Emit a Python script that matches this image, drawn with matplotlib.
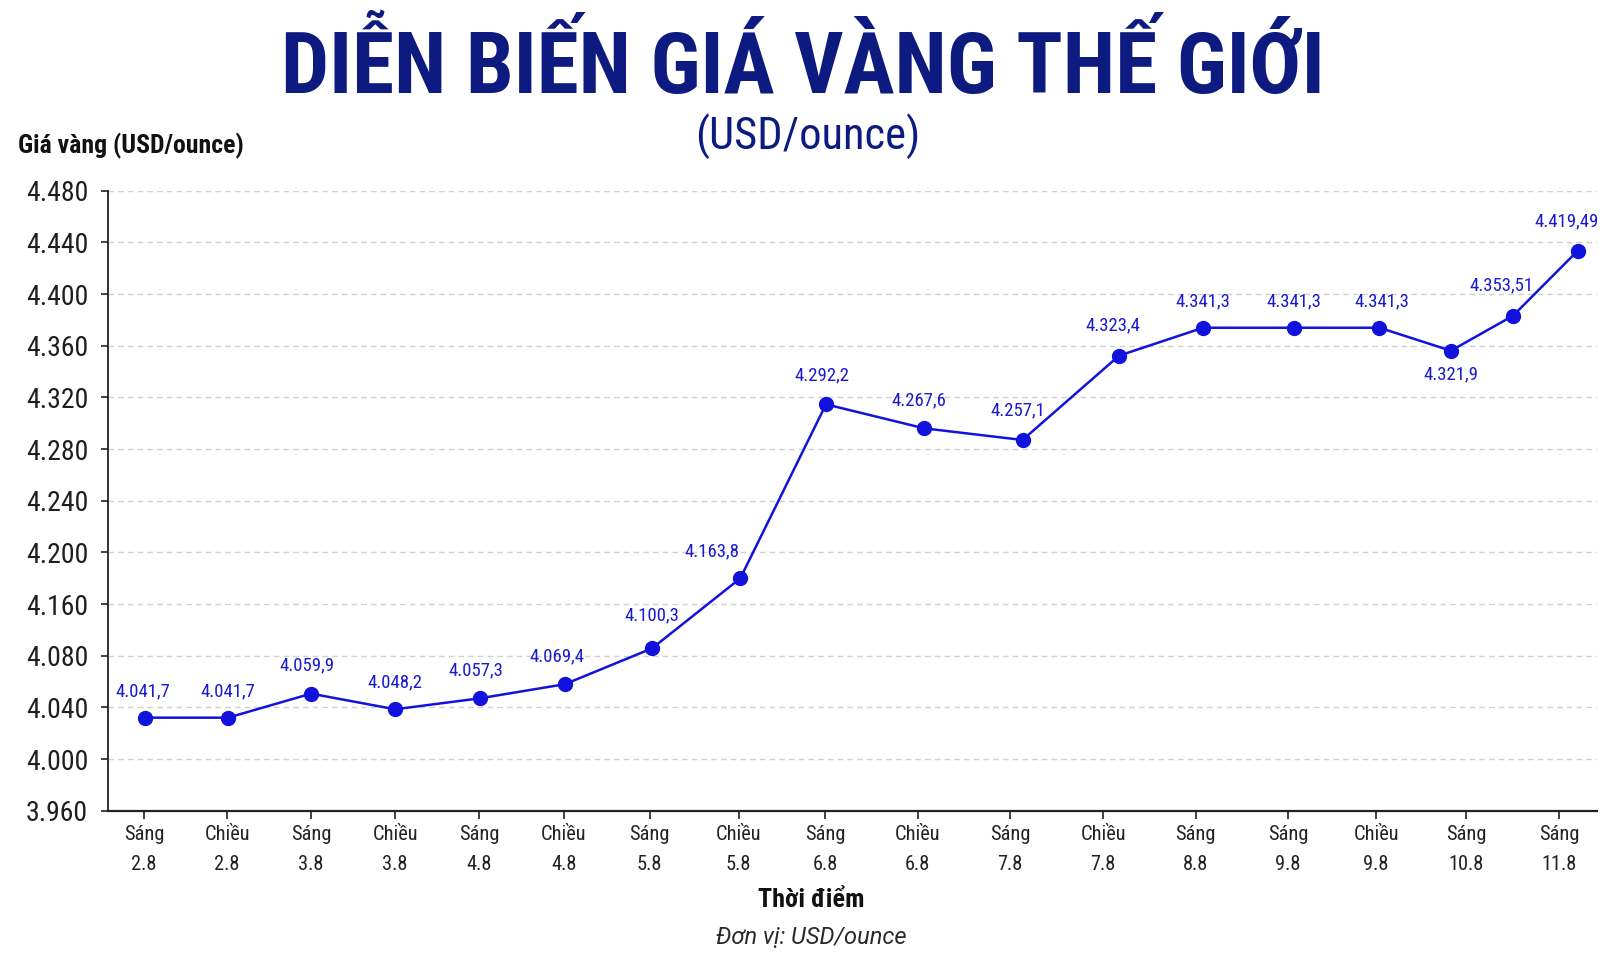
import matplotlib
matplotlib.use("Agg")
import matplotlib.pyplot as plt

# data
time_labels = ["Sáng\n2.8", "Chiều\n2.8", "Sáng\n3.8", "Chiều\n3.8", "Sáng\n4.8",
               "Chiều\n4.8", "Sáng\n5.8", "Chiều\n5.8", "Sáng\n6.8", "Chiều\n6.8",
               "Sáng\n7.8", "Chiều\n7.8", "Sáng\n8.8", "Sáng\n9.8", "Chiều\n9.8",
               "Sáng\n10.8", "Sáng\n11.8"]
tick_pos = [0, 0.99, 1.99, 2.99, 3.99, 5.0, 6.02, 7.08, 8.11, 9.21,
            10.31, 11.42, 12.52, 13.62, 14.67, 15.74, 16.85]

# where the points sit on the chart's own scale
point_x = [0.01, 1.0, 1.99, 2.99, 4.0, 5.01, 6.05, 7.1, 8.12, 9.29,
           10.46, 11.61, 12.61, 13.69, 14.71, 15.56, 16.3, 17.07]
point_y = [4032.0, 4032.0, 4050.6, 4038.5, 4047.0, 4057.9, 4085.7, 4139.9, 4274.6,
           4256.0, 4247.0, 4312.3, 4333.9, 4333.9, 4333.9, 4316.1, 4343.2, 4393.5]
# what the labels say
price_text = ["4.041,7", "4.041,7", "4.059,9", "4.048,2", "4.057,3", "4.069,4",
              "4.100,3", "4.163,8", "4.292,2", "4.267,6", "4.257,1", "4.323,4",
              "4.341,3", "4.341,3", "4.341,3", "4.321,9", "4.353,51", "4.419,49"]

y_ticks = list(range(3960, 4441, 40))
y_tick_labels = ["3.960", "4.000", "4.040", "4.080", "4.160", "4.200", "4.240",
                 "4.280", "4.320", "4.360", "4.400", "4.440", "4.480"]

# label offsets in pixels (dx, dy)
label_off = [(-2, 26), (0, 26), (-4, 28), (0, 27), (-4, 28), (-8, 28), (0, 33),
             (-28, 27), (-4, 29), (-5, 28), (-5, 30), (-6, 30), (0, 26), (0, 26),
             (2, 26), (0, -24), (-12, 30), (-11, 29)]

plt.rcParams["font.family"] = ["Roboto Condensed", "DejaVu Sans"]
wide = ["Roboto", "DejaVu Sans"]

navy = "#0d1a7f"
blue = "#1212dd"

fig = plt.figure(figsize=(16.24, 9.69), dpi=100)
ax = fig.add_axes([0.0663, 0.1634, 0.9171, 0.6398])

ax.plot(point_x, point_y, color=blue, linewidth=1.8, marker="o",
        markersize=10, zorder=3)
for x, y, t, (dx, dy) in zip(point_x, point_y, price_text, label_off):
    ax.annotate(t, (x, y), xytext=(dx, dy), textcoords="offset pixels",
                ha="center", va="center", fontsize=13.5, color="#1a1ad0")

ax.set_xlim(-0.432, 17.3)
ax.set_ylim(3960, 4440)
ax.set_yticks(y_ticks)
ax.set_yticklabels(y_tick_labels, fontsize=20, color="#1e1e1e")
ax.set_xticks(tick_pos)
ax.set_xticklabels(time_labels, fontsize=14.7, color="#222222", linespacing=1.74)

for y in y_ticks[1:]:
    ax.axhline(y, color="#d0d0d0", linewidth=1, linestyle=(0, (4, 3)), zorder=1)

for s in ["top", "right"]:
    ax.spines[s].set_visible(False)
ax.spines["left"].set_color("#222222")
ax.spines["bottom"].set_color("#222222")
ax.spines["left"].set_linewidth(1.3)
ax.spines["bottom"].set_linewidth(1.6)
ax.tick_params(axis="y", length=5, width=1.2, color="#222222", pad=9)
ax.tick_params(axis="x", length=6, width=1.2, color="#222222", pad=4.5)

fig.text(0.4945, 0.9037, "DIỄN BIẾN GIÁ VÀNG THẾ GIỚI", ha="center", va="baseline",
         fontsize=61.5, fontweight="bold", color=navy)
fig.text(0.4975, 0.845, "(USD/ounce)", ha="center", va="baseline",
         fontsize=32, color=navy)
fig.text(0.0113, 0.8418, "Giá vàng (USD/ounce)", ha="left", va="baseline",
         fontsize=18.5, fontweight="bold", color="#111111")
fig.text(0.4994, 0.0643, "Thời điểm", ha="center", va="baseline",
         fontsize=18.8, fontweight="bold", color="#111111")
fig.text(0.4997, 0.0258, "Đơn vị: USD/ounce", ha="center", va="baseline",
         fontsize=17, style="italic", color="#2a2a2a", family=wide)

fig.savefig("out.png", dpi=100, facecolor="white")
